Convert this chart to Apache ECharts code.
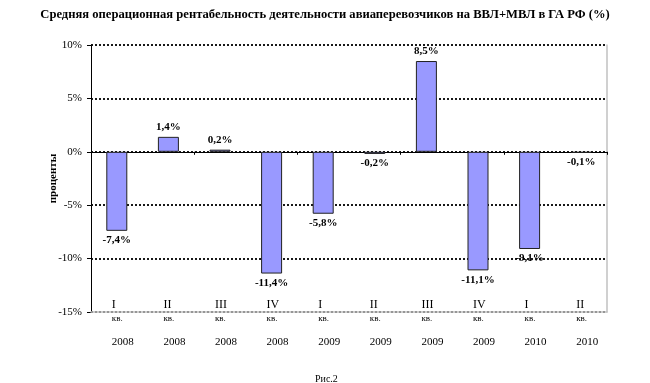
<!DOCTYPE html>
<html>
<head>
<meta charset="utf-8">
<script src="https://cdn.jsdelivr.net/npm/echarts@6/dist/echarts.min.js"></script>
<style>html,body{margin:0;padding:0;background:#fff;}#c{width:650px;height:383px;}</style>
</head>
<body>
<div id="c"></div>
<script>
const quarters = ['I','II','III','IV','I','II','III','IV','I','II'];
const years = ['2008','2008','2008','2008','2009','2009','2009','2009','2010','2010'];
const values = [-7.4, 1.4, 0.2, -11.4, -5.8, -0.2, 8.5, -11.1, -9.1, -0.1];
const yTicks = [-15, -10, -5, 0, 5, 10];
const titleText = 'Средняя операционная рентабельность деятельности авиаперевозчиков на ВВЛ+МВЛ в ГА РФ (%)';
const yName = 'проценты';
const caption = 'Рис.2';

const categories = quarters.map((q, i) => q + ' кв. ' + years[i]);
const FONT = "'Liberation Serif', 'Times New Roman', serif";

const chart = echarts.init(document.getElementById('c'), null, {renderer: 'canvas'});
chart.setOption({
  backgroundColor: '#fff',
  animation: false,
  textStyle: {fontFamily: FONT, color: '#000'},
  title: [
    {text: titleText, left: 'center', top: 3,
     textStyle: {fontFamily: FONT, fontSize: 12.6, fontWeight: 'bold', color: '#000'}},
    {text: caption, left: 310, top: 369,
     textStyle: {fontFamily: FONT, fontSize: 10, fontWeight: 'normal', color: '#000'}}
  ],
  grid: {left: 91, right: 43, top: 45, bottom: 71, containLabel: false},
  xAxis: [
    {type: 'category', data: categories, z: 4,
     axisLine: {onZero: true, lineStyle: {color: '#000', width: 1}},
     axisTick: {show: true, length: 3, lineStyle: {color: '#000'}},
     axisLabel: {show: false}, splitLine: {show: false}},
    {type: 'category', data: categories, position: 'bottom', z: 3,
     axisLine: {onZero: false, lineStyle: {color: '#c0c0c0', width: 1.5}},
     axisTick: {show: false}, splitLine: {show: false},
     axisLabel: {
       show: true, interval: 0, margin: -14,
       formatter: (v, i) => '{r|' + quarters[i] + '}\n{k|кв.}\n{y|' + years[i] + '}',
       rich: {
         r: {fontFamily: FONT, fontSize: 12, lineHeight: 13, width: 10, align: 'left', color: '#000'},
         k: {fontFamily: FONT, fontSize: 9, lineHeight: 16, width: 10, align: 'left', color: '#000'},
         y: {fontFamily: FONT, fontSize: 11, lineHeight: 30, width: 10, align: 'left', color: '#000'}
       }
     }}
  ],
  yAxis: [
    {type: 'value', min: yTicks[0], max: yTicks[yTicks.length - 1], interval: 5, z: 2,
     name: yName, nameLocation: 'middle', nameRotate: 90, nameGap: 32, nameMoveOverlap: false,
     nameTextStyle: {fontFamily: FONT, fontSize: 11, fontWeight: 'bold', color: '#000'},
     axisLine: {show: true, lineStyle: {color: '#000', width: 1}},
     axisTick: {show: true, length: 4, lineStyle: {color: '#000'}},
     axisLabel: {margin: 9, fontFamily: FONT, fontSize: 11, color: '#000',
                 formatter: v => v + '%'},
     splitLine: {show: true, lineStyle: {color: '#000', width: 1.8, type: [2, 2]}}},
    {type: 'value', min: yTicks[0], max: yTicks[yTicks.length - 1], interval: 5, position: 'right', z: 3,
     axisLine: {show: true, lineStyle: {color: '#c0c0c0', width: 1.5}},
     axisTick: {show: false}, axisLabel: {show: false}, splitLine: {show: false}}
  ],
  series: [{
    type: 'bar', xAxisIndex: 0, yAxisIndex: 0, barWidth: 21, z: 5,
    data: values.map(v => ({
      value: v,
      label: {position: v >= 0 ? 'top' : 'bottom'}
    })),
    itemStyle: {color: '#9999ff', borderColor: '#222', borderWidth: 1},
    label: {show: true, distance: 4, fontFamily: FONT, fontSize: 11, fontWeight: 'bold', color: '#000',
            formatter: p => String(p.value).replace('.', ',') + '%'}
  }]
});
</script>
</body>
</html>
